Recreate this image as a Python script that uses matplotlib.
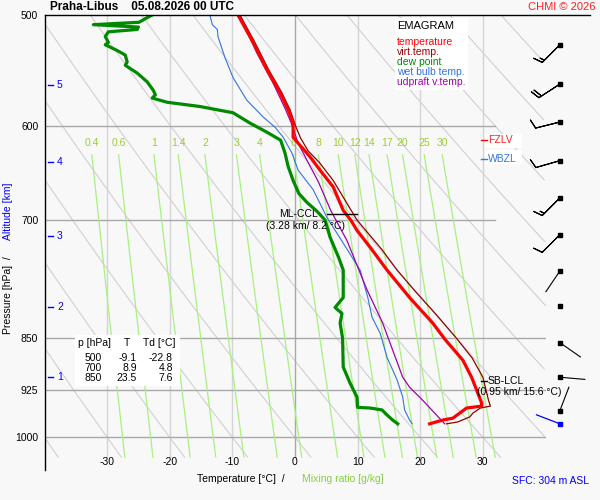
import numpy as np
import matplotlib
matplotlib.use('Agg')
import matplotlib.pyplot as plt
from matplotlib.patches import Rectangle
from matplotlib.lines import Line2D
from matplotlib.ticker import NullLocator
import matplotlib.transforms as mtransforms

plt.rcParams['font.family'] = ['Liberation Sans', 'DejaVu Sans']

# ---------------- data ----------------
temp_p = [978, 972, 969, 961, 953, 950, 945, 930, 906, 881, 852, 829, 795, 760, 732, 712, 700, 689,
          663, 645, 631, 617, 611, 597, 584, 568, 547, 521, 500]
temp_T = [21.5, 23.6, 25.2, 26.3, 27.4, 29.8, 29.8, 29.2, 28.2, 26.8, 24.0, 22.0, 18.3, 14.7, 12.0, 9.9,
          8.9, 7.7, 6.1, 4.0, 2.4, 0.5, -0.3, -0.3, -1.1, -2.4, -4.5, -6.9, -9.1]

vt_p = [978, 975, 967, 961, 953, 950, 941, 906, 878, 850, 818, 785, 760, 735, 700, 680, 656, 637,
        625, 612, 600, 584, 568, 547, 521, 500]
vt_T = [24.2, 26.0, 27.9, 28.4, 29.6, 31.2, 30.9, 30.0, 28.3, 25.8, 22.6, 19.0, 16.3, 13.9, 9.9, 8.2,
        6.1, 3.9, 2.1, 0.9, 0.1, -0.8, -2.1, -4.2, -6.6, -8.8]

dew_p = [978, 972, 964, 956, 953, 952, 936, 915, 891, 850, 829, 816, 808, 795, 760, 745, 736, 720,
         700, 690, 680, 670, 656, 641, 627, 614, 606, 597, 587, 581, 577, 573, 570, 566, 558, 550,
         543, 540, 534, 530, 525, 523, 518, 514, 512, 510, 508, 506, 503, 500]
dew_T = [16.4, 15.6, 14.7, 13.9, 12.0, 10.0, 9.9, 8.8, 7.7, 7.6, 7.2, 7.5, 6.4, 7.7, 7.7, 7.0, 6.5, 5.6,
         4.8, 3.5, 1.9, 0.6, -0.3, -1.1, -1.6, -2.3, -4.5, -7.2, -9.9, -15.2, -20.4, -22.8, -22.3,
         -22.6, -23.6, -25.2, -27.1, -26.8, -27.1, -28.4, -30.3, -29.8, -30.3, -29.8, -25.2, -25.0,
         -32.2, -24.9, -23.9, -22.8]

wb_p = [978, 972, 956, 936, 910, 877, 843, 821, 794, 760, 727, 697, 666, 645, 627, 611, 601, 591,
        575, 554, 536, 518, 512, 508, 500]
wb_T = [18.7, 18.3, 17.5, 17.2, 16.3, 14.7, 13.6, 12.3, 11.6, 10.4, 7.7, 5.1, 2.9, 0.5, -0.5, -1.9,
        -3.2, -5.1, -7.7, -9.9, -11.2, -12.3, -12.4, -13.2, -13.6]

up_p = [978, 941, 921, 906, 829, 785, 724, 689, 657, 637, 617, 597, 584, 559, 532, 500]
up_T = [23.9, 20.4, 18.3, 17.2, 14.0, 11.5, 8.3, 5.7, 3.7, 2.1, 0.5, -0.6, -1.5, -3.5, -6.1, -8.8]

wind_p = [525, 560, 596, 635, 675, 717, 761, 806, 856, 906, 957, 978]
wind_dir = [225, 237, 256, 254, 225, 225, 214, 0, 125, 95, 21, 291]
wind_kt = [15, 20, 10, 10, 15, 10, 3, 0, 3, 3, 3, 3]

alt_km = [1, 2, 3, 4, 5]
alt_p = [906, 808, 719, 636, 561]

isobars = [500, 600, 700, 850, 925, 1000]
isotherms = [-30, -20, -10, 0, 10, 20, 30]
mix_ratios = [0.4, 0.6, 1, 1.4, 2, 3, 4, 6, 8, 10, 12, 14, 17, 20, 25, 30]
mix_labels = ['0.4', '0.6', '1', '1.4', '2', '3', '4', '6', '8', '10', '12', '14', '17', '20', '25', '30']
adiabats_C = list(range(-40, 170, 10))

tab_p = [500, 700, 850]
tab_T = [-9.1, 8.9, 23.5]
tab_Td = [-22.8, 4.8, 7.6]

fzlv_p = 614
wbzl_p = 633
ccl_p = 693
lcl_p = 911

# ---------------- figure ----------------
W, H = 600, 500
BG = '#f8f8f8'
fig = plt.figure(figsize=(6, 5), dpi=100, facecolor=BG)


def fx(x):
    return x / W


def fy(y):
    return 1 - y / H


ax = fig.add_axes([fx(44.5), fy(470), 501 / W, 455 / H])
ax.set_facecolor(BG)
ax.set_yscale('log')
ax.set_xlim(-40, 40)
ax.set_ylim(1055, 500)
for s in ['top', 'right', 'bottom']:
    ax.spines[s].set_visible(False)
ax.spines['left'].set_color('black')
ax.spines['left'].set_linewidth(1.0)
ax.yaxis.set_minor_locator(NullLocator())
ax.set_yticks(isobars)
ax.set_yticklabels([str(p) for p in isobars])
ax.tick_params(axis='y', length=0, pad=4.5, labelsize=7.5)
ax.set_xticks([])

P_BOT = 1033

# adiabats
pp = np.linspace(500, P_BOT, 200)
for th in adiabats_C:
    tt = (th + 273.15) * (pp / 1000.0) ** 0.286 - 273.15
    m = tt <= 40
    ax.plot(tt[m], pp[m], color='#d0d0d0', lw=0.8, zorder=1)

# isotherms
for t in isotherms:
    col = '#a8a8a8' if t == 0 else '#d4d4d4'
    ax.plot([t, t], [500, P_BOT], color=col, lw=1.0, zorder=1.2)
    ax.text(t, 1041, str(t), ha='center', va='center', fontsize=7.5)

# isobars
for p in isobars[1:]:
    xe = 32 if p < 800 else 40
    ax.plot([-40, xe], [p, p], color='#a8a8a8', lw=1.0, zorder=1.2)
ax.plot([-40, 47.1], [500, 500], color='black', lw=1.0, clip_on=False, zorder=6)

# mixing ratio lines
pm = np.linspace(629, P_BOT, 60)
for w, lab in zip(mix_ratios, mix_labels):
    e = pm * w / (622.0 + w)
    ln = np.log(e / 6.112)
    td = 243.5 * ln / (17.67 - ln)
    ax.plot(td, pm, color='#a8f080', lw=0.9, zorder=1.5)
    ax.text(td[0], 617, lab, ha='center', va='center', fontsize=7.5, color='#9acd32', zorder=1.6)

# profiles
ax.plot(wb_T, wb_p, color='#2f73e8', lw=0.8, zorder=3)
ax.plot(up_T, up_p, color='#a000b0', lw=0.9, zorder=3)
ax.plot(vt_T, vt_p, color='#900000', lw=0.9, zorder=3.2)
ax.plot(dew_T, dew_p, color='#008a00', lw=2.3, zorder=4)
ax.plot(temp_T, temp_p, color='#ff0000', lw=2.3, zorder=4.2)

# altitude ticks
btr = mtransforms.blended_transform_factory(ax.transAxes, ax.transData)
for a, p in zip(alt_km, alt_p):
    ax.plot([0.006, 0.017], [p, p], color='#0000ff', lw=1.0, transform=btr, zorder=5)
    ax.text(0.025, p, str(a), transform=btr, color='#0000ff', fontsize=7.5, ha='left', va='center')

# FZLV / WBZL
ax.add_patch(Rectangle((fx(485), fy(148)), (522 - 485) / W, 14 / H, transform=fig.transFigure,
                       facecolor='white', edgecolor='none', zorder=4.5, clip_on=False))
ax.add_patch(Rectangle((fx(485), fy(164)), (522 - 485) / W, 14 / H, transform=fig.transFigure,
                       facecolor='white', edgecolor='none', zorder=4.5, clip_on=False))
ax.plot([29.7, 30.7], [fzlv_p, fzlv_p], color='#ff0000', lw=1.0, zorder=5)
ax.text(30.8, fzlv_p, 'FZLV', color='#ff2020', fontsize=7.5, ha='left', va='center', zorder=5)
ax.plot([29.7, 30.7], [wbzl_p, wbzl_p], color='#3377dd', lw=1.0, zorder=5)
ax.text(30.8, wbzl_p, 'WBZL', color='#3377dd', fontsize=7.5, ha='left', va='center', zorder=5)

# ML-CCL
ax.plot([5.1, 9.9], [ccl_p, ccl_p], color='black', lw=1.0, zorder=5)
fig.text(fx(318), fy(214), 'ML-CCL', ha='right', va='center', fontsize=7.5)
fig.text(fx(305), fy(226), '(3.28 km/ 8.2 \u00b0C)', ha='center', va='center', fontsize=7.5)

# SB-LCL
ax.plot([29.7, 30.7], [lcl_p, lcl_p], color='black', lw=1.0, zorder=5)
ax.text(30.8, lcl_p, 'SB-LCL', ha='left', va='center', fontsize=7.5, zorder=5)
fig.text(fx(477), fy(392), '(0.95 km/ 15.6 \u00b0C)', ha='left', va='center', fontsize=7.5)

# wind barbs
wx = 42.3
spd = np.array(wind_kt, dtype=float)
rad = np.deg2rad(wind_dir)
u = -spd * np.sin(rad)
v = -spd * np.cos(rad)
n = len(wind_p)
colors = ['black'] * (n - 1) + ['#0000ff']
strong = spd >= 5
wp = np.array(wind_p, dtype=float)
bb = ax.barbs(np.full(strong.sum(), wx), wp[strong], u[strong], v[strong], length=6, lw=0.8,
              color='black', sizes=dict(emptybarb=0.0, height=0.36), zorder=5)
bb.set_clip_on(False)
# light winds: staff only
STAFF = 25.0
for i in range(n):
    if 0 < spd[i] < 5:
        x0, y0 = ax.transData.transform((wx, wp[i]))
        x1 = x0 + STAFF * np.sin(rad[i])
        y1 = y0 + STAFF * np.cos(rad[i])
        fig.add_artist(Line2D([x0, x1], [y0, y1], transform=mtransforms.IdentityTransform(),
                              color=colors[i], lw=0.9 if i == n - 1 else 0.8, zorder=5))
ax.plot(np.full(n - 1, wx), wind_p[:-1], 's', ms=2.2, color='black', clip_on=False, zorder=6)
ax.plot([wx], [wind_p[-1]], 's', ms=2.2, color='#0000ff', clip_on=False, zorder=6)

# legend box
fig.patches.append(Rectangle((fx(395), fy(90)), 73 / W, 72 / H, transform=fig.transFigure,
                             facecolor='white', edgecolor='none', zorder=2))
fig.text(fx(397), fy(26), 'EMAGRAM', fontsize=8, ha='left', va='center')
leg = [('temperature', '#ff0000'), ('virt.temp.', '#990000'), ('dew point', '#008a00'),
       ('wet bulb temp.', '#2f73e8'), ('udpraft v.temp.', '#a000b0')]
for i, (t, c) in enumerate(leg):
    fig.text(fx(397), fy(42 + 10 * i), t, color=c, fontsize=7.5, ha='left', va='center')

# table
fig.patches.append(Rectangle((fx(75), fy(386)), 105 / W, 51 / H, transform=fig.transFigure,
                             facecolor='white', edgecolor='none', zorder=2))
fig.text(fx(78), fy(343), 'p [hPa]', fontsize=7.5, ha='left', va='center')
fig.text(fx(127), fy(343), 'T', fontsize=7.5, ha='center', va='center')
fig.text(fx(143), fy(343), 'Td [\u00b0C]', fontsize=7.5, ha='left', va='center')
for i, (p, t, d) in enumerate(zip(tab_p, tab_T, tab_Td)):
    yy = 358 + 10 * i
    fig.text(fx(102), fy(yy), str(p), fontsize=7.5, ha='right', va='center')
    fig.text(fx(137), fy(yy), f'{t:.1f}', fontsize=7.5, ha='right', va='center')
    fig.text(fx(173), fy(yy), f'{d:.1f}', fontsize=7.5, ha='right', va='center')

# titles and labels
fig.text(fx(50), fy(7), 'Praha-Libus    05.08.2026 00 UTC', fontsize=8.5, fontweight='bold',
         ha='left', va='center')
fig.text(fx(596), fy(7), 'CHMI \u00a9 2026', fontsize=8, color='#ff2020', ha='right', va='center')
fig.text(fx(197), fy(479), 'Temperature [\u00b0C]  /', fontsize=7.5, ha='left', va='center')
fig.text(fx(302), fy(479), 'Mixing ratio [g/kg]', fontsize=7.5, color='#88d040', ha='left', va='center')
fig.text(fx(512), fy(481), 'SFC: 304 m ASL', fontsize=7.5, color='#0000ff', ha='left', va='center')
fig.text(fx(8), fy(334), 'Pressure [hPa]  /', fontsize=7.5, rotation=90, ha='center', va='bottom')
fig.text(fx(8), fy(240), 'Altitude [km]', fontsize=7.5, rotation=90, ha='center', va='bottom',
         color='#0000ff')

fig.savefig('out.png', dpi=100, facecolor=BG)
